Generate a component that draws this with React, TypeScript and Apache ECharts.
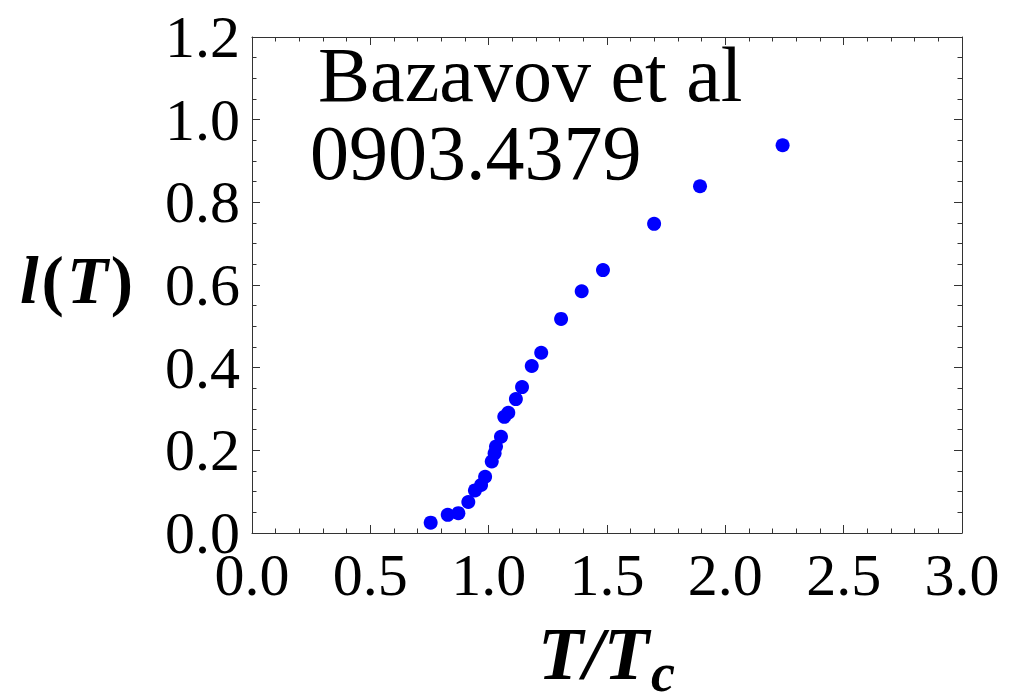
import React, { useEffect, useRef } from "react";
import * as echarts from "echarts";

const tOverTc = [0.755, 0.827, 0.872, 0.914, 0.942, 0.968, 0.985, 1.013, 1.025, 1.031, 1.052, 1.066, 1.083, 1.115, 1.141, 1.182, 1.222, 1.306, 1.393, 1.483, 1.699, 1.893, 2.242];
const lT = [0.025, 0.044, 0.048, 0.075, 0.103, 0.116, 0.136, 0.173, 0.193, 0.209, 0.233, 0.281, 0.291, 0.324, 0.353, 0.404, 0.436, 0.518, 0.585, 0.636, 0.748, 0.839, 0.938];
const annotation = ["Bazavov et al", "0903.4379"];

const FONT = "Liberation Serif";
const AXC = "#333";

export default function App() {
  const ref = useRef<HTMLDivElement>(null);
  useEffect(() => {
    const chart = echarts.init(ref.current!, null, { renderer: "svg" });
    const data = tOverTc.map((x, i) => [x, lT[i]]);
    const xBase = (pos: "bottom" | "top", labels: boolean) => ({
      type: "value",
      position: pos,
      min: 0,
      max: 3,
      interval: 0.5,
      axisLine: { show: true, onZero: false, lineStyle: { color: AXC, width: 1 } },
      axisTick: { show: true, inside: true, length: 8, lineStyle: { color: AXC } },
      minorTick: { show: true, splitNumber: 5, length: 4.5, lineStyle: { color: AXC } },
      splitLine: { show: false },
      axisLabel: {
        show: labels,
        fontFamily: FONT,
        fontSize: 60,
        color: "#000",
        margin: 12,
        formatter: (v: number) => v.toFixed(1),
      },
    });
    const yBase = (pos: "left" | "right", labels: boolean) => ({
      type: "value",
      position: pos,
      min: 0,
      max: 1.2,
      interval: 0.2,
      axisLine: { show: true, onZero: false, lineStyle: { color: AXC, width: 1 } },
      axisTick: { show: true, inside: true, length: 8, lineStyle: { color: AXC } },
      minorTick: { show: true, splitNumber: 4, length: 4.5, lineStyle: { color: AXC } },
      splitLine: { show: false },
      axisLabel: {
        show: labels,
        fontFamily: FONT,
        fontSize: 60,
        color: "#000",
        margin: 12,
        formatter: (v: number) => v.toFixed(1),
      },
    });
    const bi = { fontFamily: FONT, fontWeight: "bold", fontStyle: "italic", fill: "#000" };
    chart.setOption({
      animation: false,
      backgroundColor: "#fff",
      grid: { left: 252, right: 48, top: 37, bottom: 163, containLabel: false },
      xAxis: [xBase("bottom", true), xBase("top", false)],
      yAxis: [yBase("left", true), yBase("right", false)],
      series: [
        {
          type: "scatter",
          xAxisIndex: 0,
          yAxisIndex: 0,
          data,
          symbol: "circle",
          symbolSize: 14,
          itemStyle: { color: "#0000ff", opacity: 1 },
        },
      ],
      graphic: [
        {
          type: "text",
          left: 318,
          top: 35,
          style: { text: annotation[0], fontFamily: FONT, fontSize: 78, fill: "#000" },
        },
        {
          type: "text",
          left: 310,
          top: 113,
          style: { text: annotation[1], fontFamily: FONT, fontSize: 78, fill: "#000" },
        },
        {
          type: "text",
          left: 20,
          top: 246,
          style: {
            text: "{i|l}{u|(}{i|T}{u|)}",
            rich: {
              i: { ...bi, fontSize: 67 },
              u: { fontFamily: FONT, fontWeight: "bold", fontSize: 67, fill: "#000", padding: [0, 3, 0, 3] },
            },
          },
        },
        {
          type: "text",
          left: 538,
          top: 617,
          style: { text: "T/T", ...bi, fontSize: 74 },
        },
        {
          type: "text",
          left: 651,
          top: 646,
          style: { text: "c", ...bi, fontSize: 54, lineHeight: 46 },
        },
      ],
    });
    return () => chart.dispose();
  }, []);
  return <div ref={ref} style={{ width: 1010, height: 696, position: "absolute", left: 0, top: 0 }} />;
}
